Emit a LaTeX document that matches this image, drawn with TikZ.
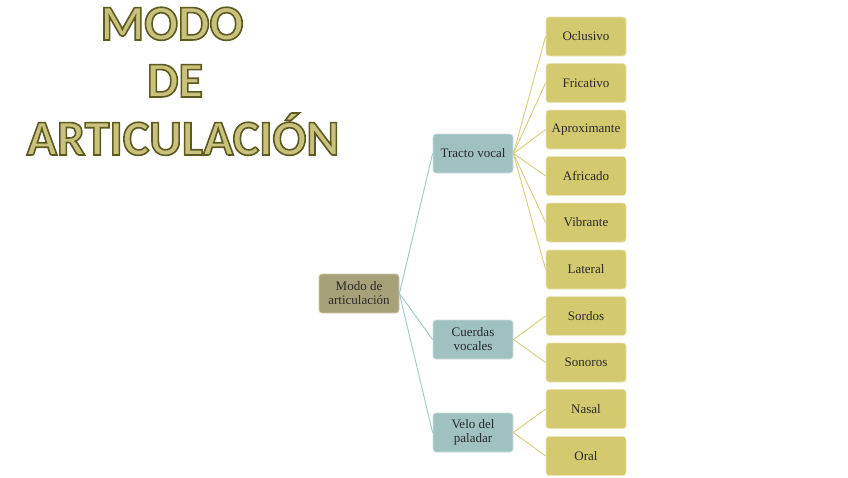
\documentclass[tikz,border=0pt]{standalone}
\usepackage{fontspec}
\setmainfont{Liberation Serif}
\newfontfamily\titlefont{Carlito}
\definecolor{rootfill}{HTML}{A7A17A}
\definecolor{midfill}{HTML}{9FC1C0}
\definecolor{leaffill}{HTML}{D4C96E}
\definecolor{midline}{HTML}{9FC8C8}
\definecolor{leafline}{HTML}{D8CE7E}
\definecolor{titlefill}{HTML}{C9C27C}
\definecolor{boxtext}{HTML}{2A2A2A}
\tikzset{
  box/.style={rounded corners=3pt, minimum width=80pt, minimum height=39pt, inner sep=1pt,
    align=center, font=\fontsize{13}{14}\selectfont, text=boxtext, line width=0.8pt},
  rootbox/.style={box, fill=rootfill, draw=rootfill!60!white},
  midbox/.style={box, fill=midfill, draw=midfill!50!white},
  leafbox/.style={box, fill=leaffill, draw=leaffill!50!white},
  conmid/.style={draw=midline, line width=0.9pt},
  conleaf/.style={draw=leafline, line width=0.9pt},
  titletext/.style={anchor=base, inner sep=0pt, font=\titlefont\bfseries\fontsize{50}{50}\selectfont}
}
\newcommand{\ttl}[1]{{\color{titlefill}\special{pdf:code 0.36 0.35 0.13 RG 2 Tr 1.6 w}#1\special{pdf:code 0 Tr}}}
\begin{document}
\begin{tikzpicture}[x=1pt,y=-1pt]
\useasboundingbox[fill=white] (0,0) rectangle (848,477);
\node[titletext] (t1) at (172,40) {\ttl{MODO}};
\node[titletext] (t2) at (175,97) {\ttl{DE}};
\node[titletext] (t3) at (183,155) {\ttl{ARTICULACIÓN}};

\foreach \m in {tv,cv,vp} {}
\coordinate (rootc) at (359,293.5);
\node[rootbox] (root) at (359,293.5) {Modo de\\articulación};
\node[midbox] (tv) at (473,153.5) {Tracto vocal};
\node[midbox] (cv) at (473,339.5) {Cuerdas\\vocales};
\node[midbox] (vp) at (473,432.5) {Velo del\\paladar};

\node[leafbox] (l1) at (586,36.5) {Oclusivo};
\node[leafbox] (l2) at (586,83) {Fricativo};
\node[leafbox] (l3) at (586,129.5) {Aproximante};
\node[leafbox] (l4) at (586,176) {Africado};
\node[leafbox] (l5) at (586,222.5) {Vibrante};
\node[leafbox] (l6) at (586,269.5) {Lateral};
\node[leafbox] (l7) at (586,316) {Sordos};
\node[leafbox] (l8) at (586,362.5) {Sonoros};
\node[leafbox] (l9) at (586,409) {Nasal};
\node[leafbox] (l10) at (586,456) {Oral};

\foreach \m in {tv,cv,vp} \draw[conmid] (root.east) -- (\m.west);
\foreach \l in {l1,l2,l3,l4,l5,l6} \draw[conleaf] (tv.east) -- (\l.west);
\foreach \l in {l7,l8} \draw[conleaf] (cv.east) -- (\l.west);
\foreach \l in {l9,l10} \draw[conleaf] (vp.east) -- (\l.west);
\end{tikzpicture}
\end{document}
